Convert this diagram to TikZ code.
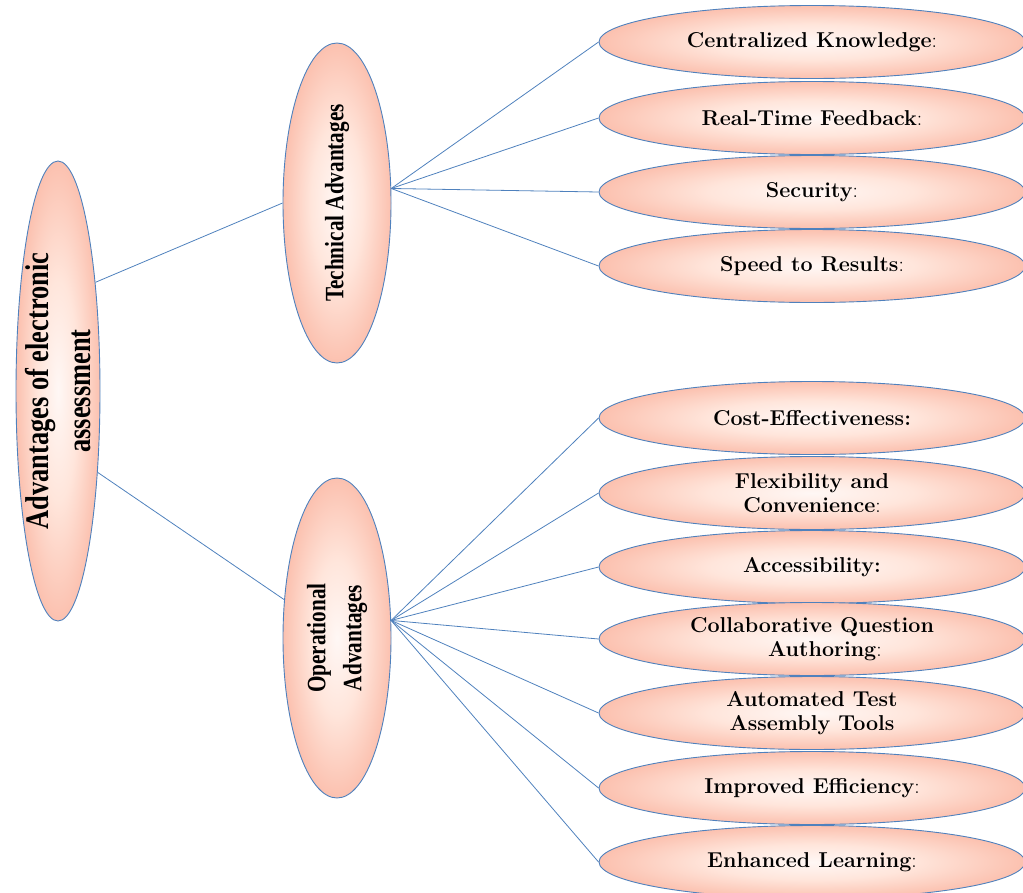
\documentclass[tikz,border=0pt]{standalone}
\usepackage{fontspec}
\setmainfont{Latin Modern Roman}
\newfontfamily\tmsc{Liberation Serif}[FakeStretch=0.8]
\usetikzlibrary{shapes.geometric}
\definecolor{edgeblue}{RGB}{79,129,189}
\pgfdeclareradialshading{petal}{\pgfpoint{0bp}{0bp}}{rgb(0bp)=(1,0.97,0.96);rgb(12bp)=(1,0.9,0.86);rgb(30bp)=(0.98,0.7,0.62);rgb(50bp)=(0.96,0.6,0.52);rgb(80bp)=(0.96,0.6,0.52)}
\newcommand{\thin}{{\mdseries:}}
\tikzset{
  petalbox/.style={ellipse, draw=edgeblue, line width=0.9pt, shading=petal, inner sep=0pt},
  leaf/.style={petalbox, minimum width=426, minimum height=73,
    font=\fontsize{21.5}{24}\selectfont\bfseries, align=center},
  hub/.style={petalbox, minimum width=108, minimum height=320},
  hublabel/.style={rotate=90, align=center, font=\tmsc\fontsize{26.5}{36}\selectfont\bfseries},
  rootlabel/.style={rotate=90, align=center, font=\tmsc\fontsize{33}{42}\selectfont\bfseries},
  conn/.style={draw=edgeblue, line width=0.8pt}
}
\begin{document}
\begin{tikzpicture}[x=1pt,y=-1pt]
\useasboundingbox (0,0) rectangle (1023,892);
% root
\node[petalbox, minimum width=84, minimum height=460,
  label={[rootlabel]center:Advantages of electronic\\assessment}] (root) at (58,391) {};
% hubs
\node[hub, label={[hublabel]center:Technical Advantages}] (tech) at (337,203) {};
\node[hub, label={[hublabel]center:Operational\\Advantages}] (op) at (337,638) {};
% technical leaves
\node[leaf] (t1) at (812,42) {Centralized Knowledge\thin};
\node[leaf] (t2) at (812,118) {Real-Time Feedback\thin};
\node[leaf] (t3) at (812,192) {Security\thin};
\node[leaf] (t4) at (812,266) {Speed to Results\thin};
% operational leaves
\node[leaf] (o1) at (812,418) {Cost-Effectiveness:};
\node[leaf] (o2) at (812,493) {Flexibility and\\Convenience\thin};
\node[leaf] (o3) at (812,567) {Accessibility:};
\node[leaf] (o4) at (812,639) {Collaborative Question\\\hspace*{1.2em}Authoring\thin};
\node[leaf] (o5) at (812,713) {Automated Test\\Assembly Tools};
\node[leaf] (o6) at (812,788) {Improved Efficiency\thin};
\node[leaf] (o7) at (812,862) {Enhanced Learning\thin};
% connectors
\draw[conn] (root.71) -- (tech.west);
\draw[conn] (root.-64) -- (op.144);
\foreach \n in {t1,t2,t3,t4} \draw[conn] (tech.15) -- (\n.west);
\foreach \n in {o1,o2,o3,o4,o5,o6,o7} \draw[conn] (op.18) -- (\n.west);
\end{tikzpicture}
\end{document}
